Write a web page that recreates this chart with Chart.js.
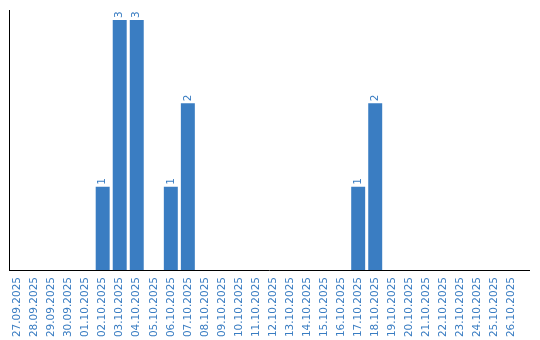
<!DOCTYPE html>
<html>
<head>
<meta charset="utf-8">
<script src="https://cdn.jsdelivr.net/npm/chart.js@4"></script>
<style>
  html, body { margin: 0; padding: 0; background: #fff; }
  #wrap { width: 540px; height: 340px; }
</style>
</head>
<body>
<div id="wrap"><canvas id="chart" width="540" height="340"></canvas></div>
<script>
const dates = [
  '27.09.2025', '28.09.2025', '29.09.2025', '30.09.2025', '01.10.2025', '02.10.2025',
  '03.10.2025', '04.10.2025', '05.10.2025', '06.10.2025', '07.10.2025', '08.10.2025',
  '09.10.2025', '10.10.2025', '11.10.2025', '12.10.2025', '13.10.2025', '14.10.2025',
  '15.10.2025', '16.10.2025', '17.10.2025', '18.10.2025', '19.10.2025', '20.10.2025',
  '21.10.2025', '22.10.2025', '23.10.2025', '24.10.2025', '25.10.2025', '26.10.2025'
];
const counts = [0, 0, 0, 0, 0, 1, 3, 3, 0, 1, 2, 0, 0, 0, 0, 0, 0, 0, 0, 0, 1, 2, 0, 0, 0, 0, 0, 0, 0, 0];

const blue = '#3a7dc2';

// valeurs au-dessus des barres (texte vertical)
const valueLabels = {
  id: 'valueLabels',
  afterDatasetsDraw(chart) {
    const ctx = chart.ctx;
    const meta = chart.getDatasetMeta(0);
    ctx.save();
    ctx.fillStyle = blue;
    ctx.font = '10.5px "DejaVu Sans"';
    ctx.textAlign = 'left';
    ctx.textBaseline = 'middle';
    meta.data.forEach((bar, i) => {
      if (!counts[i]) return;
      ctx.save();
      ctx.translate(bar.x, bar.y - 2);
      ctx.rotate(-Math.PI / 2);
      ctx.fillText(String(counts[i]), 0, 0);
      ctx.restore();
    });
    ctx.restore();
  }
};

// ligne de l'axe X, qui dépasse un peu à droite
const xAxisLine = {
  id: 'xAxisLine',
  afterDraw(chart) {
    const { ctx, chartArea } = chart;
    const y = Math.round(chartArea.bottom - 0.5) + 0.5;
    ctx.save();
    ctx.strokeStyle = '#000';
    ctx.lineWidth = 1;
    ctx.beginPath();
    ctx.moveTo(chartArea.left, y);
    ctx.lineTo(530, y);
    ctx.stroke();
    ctx.restore();
  }
};

new Chart(document.getElementById('chart').getContext('2d'), {
  type: 'bar',
  data: {
    labels: dates,
    datasets: [{
      data: counts,
      backgroundColor: blue,
      barPercentage: 0.82,
      categoryPercentage: 1
    }]
  },
  options: {
    responsive: false,
    animation: false,
    layout: { padding: { left: 9, right: 20, top: 10, bottom: 0 } },
    plugins: {
      legend: { display: false },
      tooltip: { enabled: false }
    },
    scales: {
      x: {
        afterFit(scale) { scale.height = 70; },
        grid: { display: false, drawTicks: false },
        border: { display: false },
        ticks: {
          color: blue,
          font: { family: 'DejaVu Sans', size: 10.5 },
          minRotation: 90,
          maxRotation: 90,
          autoSkip: false,
          padding: 7
        }
      },
      y: {
        min: 0,
        max: 3.12,
        grid: { display: false, drawTicks: false },
        border: { display: true, color: '#000', width: 1 },
        ticks: { display: false }
      }
    }
  },
  plugins: [valueLabels, xAxisLine]
});
</script>
</body>
</html>
